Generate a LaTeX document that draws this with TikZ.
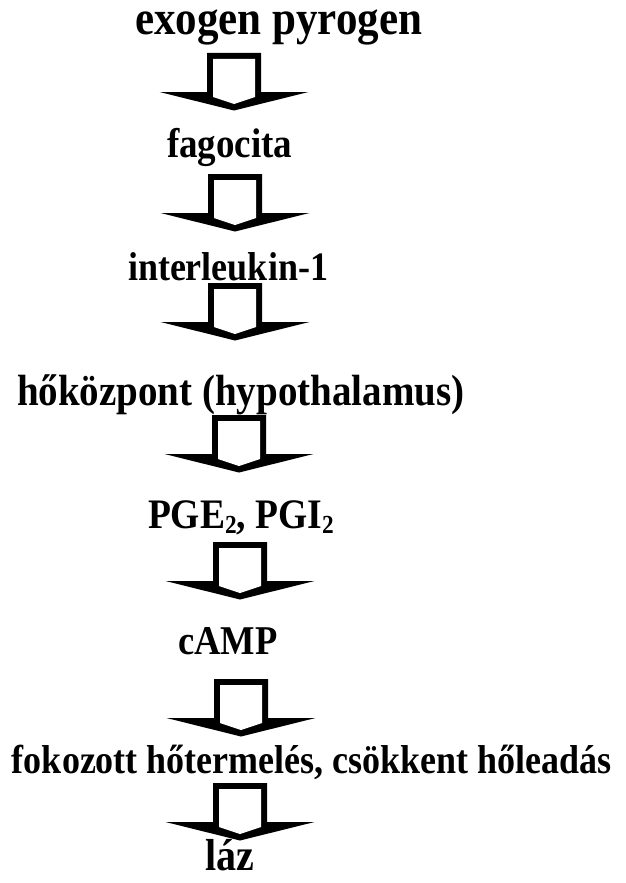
\documentclass[tikz,border=0pt]{standalone}
\usepackage{fontspec}
\usepackage{graphicx}
\setmainfont{Liberation Serif}
\newcommand{\lowtwo}{\raisebox{-0.28ex}{\scalebox{0.62}{2}}}
\newcommand{\tallbf}[1]{\scalebox{1}[1.12]{\bfseries #1}}
\tikzset{
  label text/.style={anchor=base west, inner sep=0pt, outer sep=0pt},
  pics/blockarrow/.style={code={
    % black outline of the block arrow
    \fill[black] (-27,0) -- (27,0) -- (27,39) -- (74.5,39) -- (0,57.5) -- (-74.5,39) -- (-27,39) -- cycle;
    % white interior of shaft and head
    \fill[white] (-21,6) -- (21,6) -- (21,44) -- (0,51) -- (-21,44) -- cycle;
  }}
}
\begin{document}
\begin{tikzpicture}[x=1pt, y=-1pt]
  \useasboundingbox (0,0) rectangle (625,883);
  \fill[white] (0,0) rectangle (625,883);

  % labels of the chain
  \node[label text, font=\fontsize{43}{43}\selectfont] (t1) at (135,35) {\tallbf{exogen pyrogen}};
  \node[label text, font=\fontsize{37}{37}\selectfont] (t2) at (167,157) {\tallbf{fagocita}};
  \node[label text, font=\fontsize{36}{36}\selectfont] (t3) at (128,280) {\tallbf{interleukin-1}};
  \node[label text, font=\fontsize{39}{39}\selectfont] (t4) at (17,405) {\tallbf{hőközpont (hypothalamus)}};
  \node[label text, font=\fontsize{37.5}{37.5}\selectfont] (t5) at (148,528) {\tallbf{PGE\lowtwo, PGI\lowtwo}};
  \node[label text, font=\fontsize{36.5}{36.5}\selectfont] (t6) at (178,654) {\tallbf{cAMP}};
  \node[label text, font=\fontsize{36}{36}\selectfont] (t7) at (12,773) {\tallbf{fokozott hőtermelés, csökkent hőleadás}};
  \node[label text, font=\fontsize{40}{40}\selectfont] (t8) at (205,870) {\tallbf{láz}};

  % block arrows between the labels
  \coordinate (a1) at (234,53);
  \coordinate (a2) at (235,174);
  \coordinate (a3) at (235,283);
  \coordinate (a4) at (239,415);
  \coordinate (a5) at (240,542);
  \coordinate (a6) at (241,679);
  \coordinate (a7) at (240,783);
  \foreach \a in {a1,a2,a3,a4,a5,a6,a7}
    \pic at (\a) {blockarrow};
\end{tikzpicture}
\end{document}
